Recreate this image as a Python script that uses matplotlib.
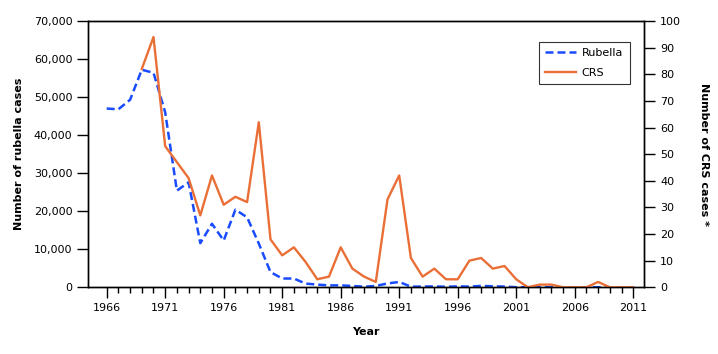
import numpy as np
import matplotlib
matplotlib.use('Agg')
import matplotlib.pyplot as plt
from matplotlib.ticker import FuncFormatter

# rubella cases per year, 1966-2011
rub_years = list(range(1966, 2012))
rubella = [47000, 46800, 49300, 57200, 56400, 46000, 25400, 27600, 11600, 16700,
           12300, 20400, 18400, 11500, 4000, 2300, 2300, 970, 700, 500,
           500, 350, 150, 350, 1000, 1400, 160, 190, 230, 130,
           240, 180, 360, 270, 180, 20, 20, 10, 10, 10,
           10, 10, 10, 5, 5, 5]

# CRS cases per year, 1969-2011
crs_years = list(range(1969, 2012))
crs = [82, 94, 53, 47, 41, 27, 42, 31, 34, 32,
       62, 18, 12, 15, 9.5, 3, 4, 15, 7, 4,
       2, 33, 42, 11, 4, 7, 3, 3, 10, 11,
       7, 8, 3, 0, 1, 1, 0, 0, 0, 2,
       0, 0, 0]

plt.rcParams['font.family'] = ['DejaVu Sans']
plt.rcParams['font.size'] = 8

fig = plt.figure(figsize=(7.18, 3.54), dpi=100)
ax = fig.add_axes([0.1230, 0.1885, 0.7744, 0.7520])
ax2 = ax.twinx()

l1, = ax.plot(rub_years, rubella, color='#1a4cff', lw=1.8, ls=(0, (3.2, 1.6)), label='Rubella')
l2, = ax2.plot(crs_years, crs, color='#ea6f37', lw=1.7, label='CRS')

ax.set_xlim(1964.43, 2011.95)
ax.set_ylim(0, 70000)
ax2.set_ylim(0, 100)

ax.set_xticks(range(1966, 2012, 5))
ax.set_xticks(range(1966, 2012), minor=True)
ax.set_yticks(range(0, 70001, 10000))
ax.yaxis.set_major_formatter(FuncFormatter(lambda v, p: f'{int(v):,}'))
ax2.set_yticks(range(0, 101, 10))

ax.tick_params(axis='x', which='major', length=8, width=1, direction='out')
ax.tick_params(axis='x', which='minor', length=4, width=1, direction='out')
ax.tick_params(axis='y', length=8, width=1, direction='out')
ax2.tick_params(axis='y', length=8, width=1, direction='out')
for a in (ax, ax2):
    for s in a.spines.values():
        s.set_linewidth(1)

ax.set_xlabel('Year', fontweight='bold', labelpad=10)
ax.set_ylabel('Number of rubella cases', fontweight='bold', labelpad=7)
ax2.set_ylabel('Number of CRS cases *', fontweight='bold', rotation=270, labelpad=20)

leg = ax2.legend(handles=[l1, l2], loc='upper left', bbox_to_anchor=(0.810, 0.923),
                 borderaxespad=0, frameon=True, fancybox=False, edgecolor='black',
                 fontsize=8, handlelength=2.8, handletextpad=0.45, borderpad=0.6,
                 labelspacing=0.85)
leg.get_frame().set_linewidth(0.8)

fig.savefig('out.png', dpi=100)
